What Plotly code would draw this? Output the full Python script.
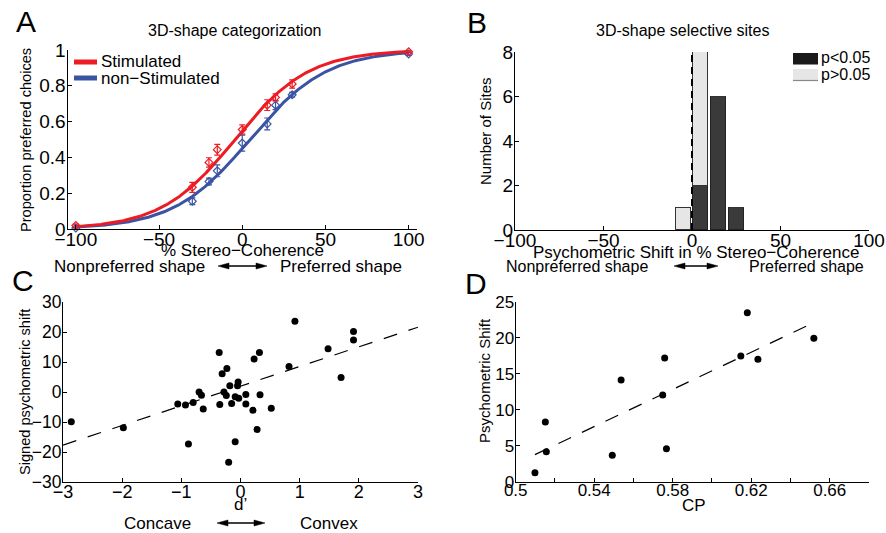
import numpy as np
import plotly.graph_objects as go

# ---------------- data ----------------
# Panel A: psychometric functions
coherence = [-100, -30, -20, -15, 0, 15, 20, 30, 100]
stim_prop = [0.019, 0.233, 0.372, 0.443, 0.556, 0.692, 0.735, 0.81, 0.99]
stim_err = [0.008, 0.028, 0.026, 0.03, 0.026, 0.03, 0.02, 0.023, 0.005]
nonstim_prop = [0.005, 0.155, 0.265, 0.325, 0.48, 0.587, 0.692, 0.75, 0.978]
nonstim_err = [0.005, 0.019, 0.019, 0.033, 0.045, 0.033, 0.025, 0.013, 0.008]
stim_fit_mu, stim_fit_scale = -4.4, 22.2
nonstim_fit_mu, nonstim_fit_scale = 4.6, 23.0

# Panel B: histogram of psychometric shifts
shift_bin_centers = [-5, 5, 15, 25]
sig_counts = [0, 2, 6, 1]
nonsig_counts = [1, 6, 0, 0]
zero_shift = 0

# Panel C: d' vs signed psychometric shift
dprime = [-2.86, -1.98, -1.06, -0.93, -0.80, -0.88, -0.70, -0.66, -0.63, -0.36,
          -0.35, -0.31, -0.28, -0.23, -0.24, -0.20, -0.18, -0.15, -0.09, -0.09,
          -0.05, -0.04, -0.03, 0.09, 0.09, 0.21, 0.23, 0.28, 0.32, 0.33,
          0.52, 0.82, 0.92, 1.48, 1.70, 1.91, 1.91]
signed_shift = [-9.9, -11.9, -4.0, -4.3, -3.5, -17.3, 0.0, -1.1, -5.7, 13.2,
                -4.2, 6.1, 0.0, 7.8, -1.2, -23.4, 2.1, -3.8, -1.6, -16.6,
                2.1, 3.3, -2.1, -0.8, -4.0, -6.1, 11.0, -12.5, 13.2, -0.9,
                -5.4, 8.5, 23.6, 14.4, 4.8, 20.2, 17.3]
c_fit_slope, c_fit_intercept = 6.55, 1.95
c_fit_xrange = [-3, 3]

# Panel D: CP vs psychometric shift
cp = [0.5098, 0.5151, 0.5156, 0.5492, 0.5537, 0.5749, 0.5759, 0.5768,
      0.6147, 0.6180, 0.6234, 0.6519]
psy_shift = [1.25, 8.29, 4.17, 3.66, 14.12, 12.04, 17.18, 4.58,
             17.45, 23.47, 16.99, 19.91]
d_fit_slope, d_fit_intercept = 129.0, -62.0

# tick definitions
a_xticks = [-100, -50, 0, 50, 100]
a_yticks = [0, 0.2, 0.4, 0.6, 0.8, 1]
a_yticklabels = ["0", "0.2", "0.4", "0.6", "0.8", "1"]
b_xticks = [-100, -50, 0, 50, 100]
b_yticks = [0, 2, 4, 6, 8]
c_xticks = [-3, -2, -1, 0, 1, 2, 3]
c_yticks = [-30, -20, -10, 0, 10, 20, 30]
d_xticks = [0.50, 0.52, 0.54, 0.56, 0.58, 0.60, 0.62, 0.64, 0.66, 0.68]
d_xticklabels = ["0.5", "", "0.54", "", "0.58", "", "0.62", "", "0.66", ""]
d_yticks = [0, 5, 10, 15, 20, 25]

# ---------------- style ----------------
W, H = 886, 533
FONT = "Liberation Sans, Arial, Helvetica, sans-serif"
RED = "#ED1C24"
BLUE = "#3A54A4"
DARK = "#3A3A3A"
LIGHT = "#E6E6E6"


def px(x):
    return x / W


def py(y):
    return 1 - y / H


fig = go.Figure()

# ---- Panel A ----
xfit = np.linspace(-100, 100, 401)
stim_curve = 1 / (1 + np.exp(-(xfit - stim_fit_mu) / stim_fit_scale))
nonstim_curve = 1 / (1 + np.exp(-(xfit - nonstim_fit_mu) / nonstim_fit_scale))

fig.add_trace(go.Scatter(x=xfit, y=nonstim_curve, mode="lines",
                         line=dict(color=BLUE, width=3), xaxis="x", yaxis="y",
                         showlegend=False, cliponaxis=False))
fig.add_trace(go.Scatter(x=xfit, y=stim_curve, mode="lines",
                         line=dict(color=RED, width=3), xaxis="x", yaxis="y",
                         showlegend=False, cliponaxis=False))
fig.add_trace(go.Scatter(x=coherence, y=nonstim_prop, mode="markers",
                         marker=dict(symbol="diamond-open", size=6, color=BLUE,
                                     line=dict(width=1.2)),
                         error_y=dict(type="data", array=nonstim_err, color=BLUE,
                                      thickness=1.2, width=3),
                         xaxis="x", yaxis="y", showlegend=False, cliponaxis=False))
fig.add_trace(go.Scatter(x=coherence, y=stim_prop, mode="markers",
                         marker=dict(symbol="diamond-open", size=6, color=RED,
                                     line=dict(width=1.2)),
                         error_y=dict(type="data", array=stim_err, color=RED,
                                      thickness=1.2, width=3),
                         xaxis="x", yaxis="y", showlegend=False, cliponaxis=False))

# ---- Panel B ----
fig.add_trace(go.Bar(x=shift_bin_centers, y=sig_counts, width=8.5,
                     marker=dict(color=DARK, line=dict(color="#222222", width=1)),
                     xaxis="x2", yaxis="y2", showlegend=False))
fig.add_trace(go.Bar(x=shift_bin_centers, y=nonsig_counts, width=8.5,
                     marker=dict(color=LIGHT, line=dict(color="#333333", width=1)),
                     xaxis="x2", yaxis="y2", showlegend=False))

# ---- Panel C ----
cfx = np.array(c_fit_xrange, dtype=float)
fig.add_trace(go.Scatter(x=cfx, y=c_fit_intercept + c_fit_slope * cfx, mode="lines",
                         line=dict(color="black", width=1.2, dash="14px,12px"),
                         xaxis="x3", yaxis="y3", showlegend=False, cliponaxis=False))
fig.add_trace(go.Scatter(x=dprime, y=signed_shift, mode="markers",
                         marker=dict(color="black", size=7),
                         xaxis="x3", yaxis="y3", showlegend=False, cliponaxis=False))

# ---- Panel D ----
dfx = np.array([min(cp), max(cp)])
fig.add_trace(go.Scatter(x=dfx, y=d_fit_intercept + d_fit_slope * dfx, mode="lines",
                         line=dict(color="black", width=1.2, dash="14px,12px"),
                         xaxis="x4", yaxis="y4", showlegend=False, cliponaxis=False))
fig.add_trace(go.Scatter(x=cp, y=psy_shift, mode="markers",
                         marker=dict(color="black", size=7),
                         xaxis="x4", yaxis="y4", showlegend=False, cliponaxis=False))

# ---------------- axes ----------------
def ax(size=19, standoff=0, **kw):
    base = dict(showline=True, linecolor="black", linewidth=1.2, ticks="inside",
                ticklen=4, tickcolor="black", tickwidth=1.2, showgrid=False,
                zeroline=False, mirror=False, fixedrange=True, automargin=False,
                showspikes=False, ticklabelstandoff=standoff,
                tickfont=dict(family=FONT, size=size, color="black"))
    base.update(kw)
    return base


XS, YS = -7, -3
layout_axes = dict(
    xaxis=ax(standoff=XS, domain=[px(67.5), px(417)], range=[-105, 105],
             tickvals=a_xticks, anchor="y"),
    yaxis=ax(standoff=YS, domain=[py(229), py(50)], range=[0, 1], tickvals=a_yticks,
             ticktext=a_yticklabels, anchor="x"),
    xaxis2=ax(standoff=XS, domain=[px(515), px(869)], range=[-100, 100],
              tickvals=b_xticks, anchor="y2"),
    yaxis2=ax(standoff=YS, domain=[py(230), py(52)], range=[0, 8], tickvals=b_yticks,
              anchor="x2"),
    xaxis3=ax(size=18, standoff=XS, domain=[px(63), px(418)], range=[-3, 3],
              tickvals=c_xticks, anchor="y3"),
    yaxis3=ax(size=17.5, standoff=YS, domain=[py(482), py(302)], range=[-30, 30],
              tickvals=c_yticks, anchor="x3"),
    xaxis4=ax(size=17, standoff=XS, domain=[px(515.7), px(869)], range=[0.5, 0.68],
              tickvals=d_xticks, ticktext=d_xticklabels, anchor="y4"),
    yaxis4=ax(size=17, standoff=YS, domain=[py(481.7), py(301.7)], range=[0, 25],
              tickvals=d_yticks, anchor="x4"),
)

# ---------------- annotations & shapes ----------------
ann = []
shapes = []


def text(t, x, y, size, xanchor="center", yanchor="middle", angle=0):
    ann.append(dict(text=t, x=px(x), y=py(y), xref="paper", yref="paper",
                    showarrow=False, xanchor=xanchor, yanchor=yanchor,
                    textangle=angle, font=dict(family=FONT, size=size, color="black")))


def dbl_arrow(x0, x1, y, head=11, half=3):
    shapes.append(dict(type="line", xref="paper", yref="paper",
                       x0=px(x0 + head - 1), x1=px(x1 - head + 1), y0=py(y), y1=py(y),
                       line=dict(color="black", width=1.5)))
    for tip, base in ((x0, x0 + head), (x1, x1 - head)):
        path = (f"M {px(tip)},{py(y)} L {px(base)},{py(y - half)} "
                f"L {px(base)},{py(y + half)} Z")
        shapes.append(dict(type="path", xref="paper", yref="paper", path=path,
                           fillcolor="black", line=dict(color="black", width=0.5)))


# panel letters
text("A", 26, 21, 30)
text("B", 477, 22, 30)
text("C", 23, 280, 30)
text("D", 476, 283, 30)

# Panel A texts
text("3D-shape categorization", 234, 30, 16)
text("Proportion preferred choices", 26, 140, 14.6, angle=-90)
text("% Stereo\u2212Coherence", 242, 251, 17)
text("Nonpreferred shape", 207, 266, 17, xanchor="right")
text("Preferred shape", 278, 266, 17, xanchor="left")
dbl_arrow(218, 267, 266)

# Panel B texts
text("3D-shape selective sites", 682, 30, 16)
text("Number of Sites", 485, 131, 15, angle=-90)
text("Psychometric Shift in % Stereo\u2212Coherence", 696, 252, 17)
text("Nonpreferred shape", 650, 266, 16, xanchor="right")
text("Preferred shape", 747, 266, 16, xanchor="left")
dbl_arrow(674, 718, 266)

# Panel C texts
text("Signed psychometric shift", 25, 392, 14.6, angle=-90)
text("d\u2019", 240, 504, 17)
text("Concave", 193, 523, 17, xanchor="right")
text("Convex", 298, 523, 17, xanchor="left")
dbl_arrow(217, 265, 523)

# Panel D texts
text("Psychometric Shift", 484, 381, 15, angle=-90)
text("CP", 694, 505, 17)

# manual legends
text("Stimulated", 99, 62, 17, xanchor="left")
text("non\u2212Stimulated", 99, 78, 17, xanchor="left")
text("p&lt;0.05", 819, 58, 16, xanchor="left")
text("p&gt;0.05", 819, 74, 16, xanchor="left")

shapes += [
    dict(type="line", xref="paper", yref="paper", x0=px(74), x1=px(97), y0=py(62), y1=py(62),
         line=dict(color=RED, width=5)),
    dict(type="line", xref="paper", yref="paper", x0=px(74), x1=px(97), y0=py(78), y1=py(78),
         line=dict(color=BLUE, width=5)),
    dict(type="rect", xref="paper", yref="paper", x0=px(793), x1=px(818), y0=py(64), y1=py(53),
         fillcolor="#1A1A1A", line=dict(width=0)),
    dict(type="line", xref="paper", yref="paper", x0=px(793), x1=px(818), y0=py(64.5), y1=py(64.5),
         line=dict(color="#888888", width=1)),
    dict(type="rect", xref="paper", yref="paper", x0=px(793), x1=px(818), y0=py(80), y1=py(69),
         fillcolor=LIGHT, line=dict(width=0)),
    dict(type="line", xref="paper", yref="paper", x0=px(793), x1=px(818), y0=py(80.5), y1=py(80.5),
         line=dict(color="#888888", width=1.2)),
    # zero-shift reference line in panel B
    dict(type="line", xref="x2", yref="y2", x0=zero_shift, x1=zero_shift, y0=0, y1=max(
        s + n for s, n in zip(sig_counts, nonsig_counts)),
         line=dict(color="black", width=2, dash="7px,5px"), layer="above"),
]

fig.update_layout(
    template="none",
    width=W, height=H, margin=dict(l=0, r=0, t=0, b=0, autoexpand=False),
    paper_bgcolor="white", plot_bgcolor="white",
    barmode="stack", bargap=0, showlegend=False,
    font=dict(family=FONT, color="black"),
    annotations=ann, shapes=shapes,
    **layout_axes,
)

fig.write_html(
    "out.html",
    config={"displayModeBar": False},
    post_script="document.body.style.margin='0';document.body.style.padding='0';",
)
